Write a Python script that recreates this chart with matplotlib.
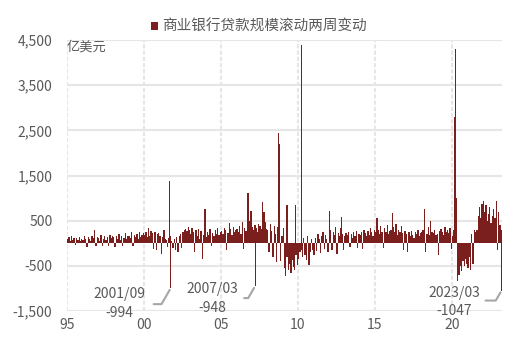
import numpy as np
import pandas as pd
import matplotlib
matplotlib.use('Agg')
import matplotlib.pyplot as plt

plt.rcParams['font.family'] = ['Noto Sans CJK SC', 'DejaVu Sans']

BAR_COLOR = '#7b1e1e'
TEXT_COLOR = '#595959'
GRID_COLOR = '#e6e6e6'
LINK_COLOR = '#a6a6a6'

SERIES_NAME = '商业银行贷款规模滚动两周变动'
UNIT = '亿美元'

# rolling two-week change, one value per month from 1995/01 (亿美元)
START_MONTH = '1995-01'
monthly_change = [
    90, 130, 50, 160, 70, 110, -40, 120, 80, 140, 60, 100,          # 1995
    70, 150, 100, -80, 130, 90, 50, 170, 110, 290, -60, 140,        # 1996
    120, 60, 180, -70, 100, 150, 70, 130, -50, 190, 110, 160,       # 1997
    140, -90, 170, 100, 210, 80, 150, -60, 120, 230, 100, 170,      # 1998
    160, 110, 240, -70, 190, 130, 210, 90, 250, 140, 180, 220,      # 1999
    190, 250, 140, 330, 170, 280, 220, -130, 260, -160, 200, 230,   # 2000
    160, -230, 130, 290, 100, 70, -90, 110, 150, 60, -110, 100,     # 2001
    -160, 130, -190, 170, 210, -100, 250, 290, 320, 270, 350, 300,  # 2002
    210, 330, 260, -200, 290, 160, 320, 100, 270, -350, 190, 750,   # 2003
    130, 260, 190, 310, -70, 230, 160, 290, 210, 330, 180, 250,     # 2004
    270, 200, 330, 290, -150, 230, 440, 310, 190, 360, 250, 300,    # 2005
    310, 250, 390, 210, 460, -130, 340, 280, 360, 410, 500, 720,    # 2006
    360, 290, 410, 330, 260, 430, 390, 320, 460, 690, 470, 310,     # 2007
    300, -190, 420, 270, -300, 390, 210, -410, 360, 260, -400, 160, # 2008
    330, -550, -730, -300, -600, -450, -650, -380, -520, -600, -250, -480,  # 2009
    -350, -200, -150, -300, 120, -250, -380, 150, -480, -200, 100, -150,    # 2010
    -250, 120, -180, 200, 90, -220, 150, 250, -120, 180, 100, -200, # 2011
    200, 300, -150, 250, 180, 350, -240, 220, 150, 330, 200, -160,  # 2012
    150, 230, 180, 260, -80, 200, 120, 240, 170, 280, -100, 210,    # 2013
    180, 260, -120, 300, 220, 150, 280, 190, 330, 240, 170, 290,    # 2014
    250, 550, 300, 200, 380, 260, -100, 330, 240, 400, 210, 280,    # 2015
    300, 670, 350, 240, 420, 180, 300, 260, 380, 220, -150, 280,    # 2016
    200, -200, 250, 150, 280, 180, 120, 260, 200, 290, 160, 230,    # 2017
    250, 300, 750, -200, 200, 350, 180, 500, 260, 220, 300, 190,    # 2018
    200, -250, 280, 320, 240, 180, 350, 260, 300, 220, 330, -120,   # 2019
    150, 300, 200, 1000, -840, -700, -500, -620, -400, -500, -350, -450,    # 2020
    -550, -300, -600, 200, -450, 300, 250, 300, 600, 800, 550, 880, # 2021
    940, 700, 850, 500, 650, 800, 450, 600, 750, 550, 940, -150,    # 2022
    700, 400, 300,                                                  # 2023
]

# single weeks that stand out from the monthly band
spike_dates = ['2001-09-05', '2001-09-26', '2006-10-04', '2007-03-21',
               '2007-09-05', '2008-09-17', '2008-10-08', '2009-04-15',
               '2009-11-11', '2010-03-24', '2012-01-18', '2012-11-07',
               '2020-02-26', '2020-03-25', '2023-03-22']
spike_values = [1380, -994, 1110, -948, 910, 2440, 2190, 850,
                850, 4380, 710, 580, 2790, 4300, -1047]

ann_dates = ['2001-09-26', '2007-03-21', '2023-03-22']
ann_labels = ['2001/09', '2007/03', '2023/03']

ytick_values = [-1500, -500, 500, 1500, 2500, 3500, 4500]
ytick_labels = ['-1,500', '-500', '500', '1,500', '2,500', '3,500', '4,500']
xtick_years = [1995, 2000, 2005, 2010, 2015, 2020]
xtick_labels = ['95', '00', '05', '10', '15', '20']


def year_fraction(dates):
    ts = pd.to_datetime(pd.Series(dates))
    days = np.where(ts.dt.is_leap_year, 366, 365)
    return (ts.dt.year + (ts.dt.dayofyear - 0.5) / days).to_numpy()


def plot_chart():
    months = pd.period_range(START_MONTH, periods=len(monthly_change), freq='M')
    mx = months.year + (months.month - 0.5) / 12
    sx = year_fraction(spike_dates)

    fig = plt.figure(figsize=(5.08, 3.42), dpi=100)
    ax = fig.add_axes([67 / 508, 31 / 342, 435 / 508, 271 / 342])

    ax.bar(mx, monthly_change, width=1 / 12, color=BAR_COLOR, linewidth=0,
           label=SERIES_NAME)
    ax.bar(sx, spike_values, width=0.08, color=BAR_COLOR, linewidth=0)

    ax.set_xlim(1995, 2023.25)
    ax.set_ylim(-1500, 4500)
    ax.set_yticks(ytick_values, ytick_labels)
    ax.set_xticks(xtick_years, xtick_labels)
    ax.tick_params(axis='y', length=0, pad=10.5, labelsize=10, colors=TEXT_COLOR)
    ax.tick_params(axis='x', length=0, pad=5, labelsize=10, colors=TEXT_COLOR)

    ax.set_axisbelow(True)
    ax.yaxis.grid(True, color=GRID_COLOR, lw=1.5, ls='-')
    ax.xaxis.grid(True, color=GRID_COLOR, lw=1.5, ls=(0, (2, 1)))
    for s in ax.spines.values():
        s.set_visible(False)

    ax.annotate(UNIT, xy=(0, 1), xycoords='axes fraction', xytext=(0, -7),
                textcoords='offset pixels', ha='left', va='center',
                fontsize=9.5, color=TEXT_COLOR)

    # labels for the three deepest weeks
    link_offsets = [(-17, -16), (-11, -12), (-16, -10)]
    text_offsets = [(-51, 1), (-43, 4), (-47, 5)]
    for d, lab, lo, to in zip(ann_dates, ann_labels, link_offsets, text_offsets):
        i = spike_dates.index(d)
        x, v = sx[i], spike_values[i]
        ax.annotate('', xy=(x, v), xytext=lo, textcoords='offset pixels',
                    arrowprops=dict(arrowstyle='-', color=LINK_COLOR, lw=1.5,
                                    shrinkA=0, shrinkB=1.5,
                                    connectionstyle='angle,angleA=0,angleB=60,rad=0'))
        ax.annotate(f'{lab}\n{v}', xy=(x, v), xytext=to,
                    textcoords='offset pixels', ha='center', va='top',
                    fontsize=10, color=TEXT_COLOR, linespacing=1.42,
                    annotation_clip=False)

    ax.legend(loc='center', bbox_to_anchor=(259 / 508, 1 - 27 / 342),
              bbox_transform=fig.transFigure, frameon=False, fontsize=10.5,
              handlelength=0.5, handleheight=0.5, handletextpad=0.3,
              labelcolor=TEXT_COLOR, borderpad=0)

    fig.savefig('out.png', dpi=100)


if __name__ == "__main__":
    plot_chart()
